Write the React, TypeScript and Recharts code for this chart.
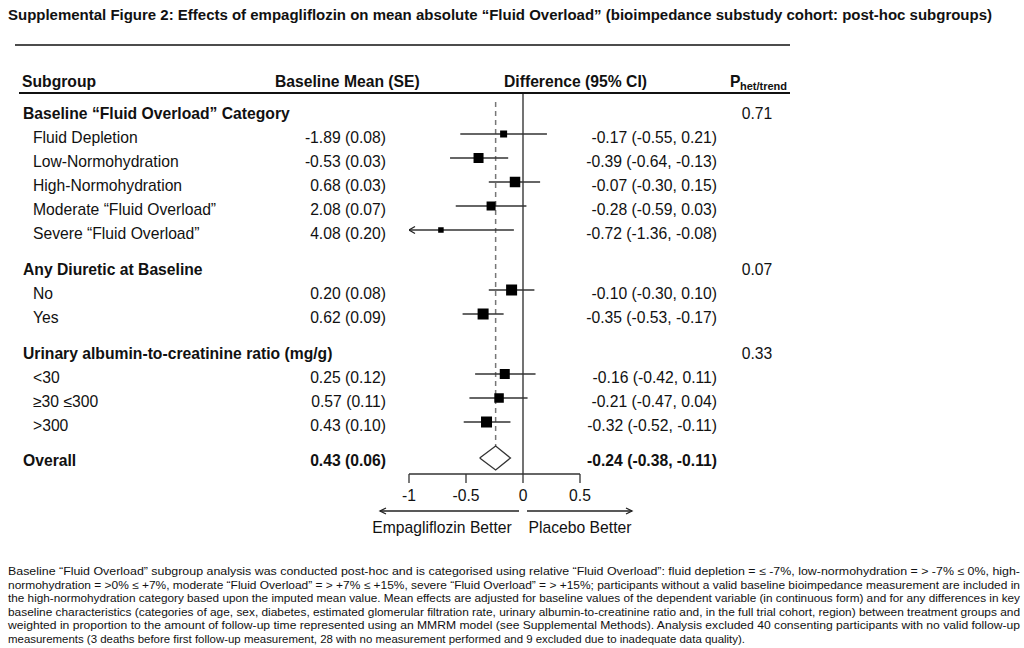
import React from "react";
import {
  ScatterChart,
  Scatter,
  XAxis,
  YAxis,
  ErrorBar,
  ReferenceLine,
} from "recharts";

// ---- data ----
const groupTitles = [
  "Baseline “Fluid Overload” Category",
  "Any Diuretic at Baseline",
  "Urinary albumin-to-creatinine ratio (mg/g)",
];
const groupP = ["0.71", "0.07", "0.33"];

const subgroupLabels = [
  "Fluid Depletion",
  "Low-Normohydration",
  "High-Normohydration",
  "Moderate “Fluid Overload”",
  "Severe “Fluid Overload”",
  "No",
  "Yes",
  "<30",
  "≥30 ≤300",
  ">300",
];
const subgroupGroup = [0, 0, 0, 0, 0, 1, 1, 2, 2, 2];
const baselineMean = [-1.89, -0.53, 0.68, 2.08, 4.08, 0.2, 0.62, 0.25, 0.57, 0.43];
const baselineSE = [0.08, 0.03, 0.03, 0.07, 0.2, 0.08, 0.09, 0.12, 0.11, 0.1];
const diffEst = [-0.17, -0.39, -0.07, -0.28, -0.72, -0.1, -0.35, -0.16, -0.21, -0.32];
const diffLow = [-0.55, -0.64, -0.3, -0.59, -1.36, -0.3, -0.53, -0.42, -0.47, -0.52];
const diffHigh = [0.21, -0.13, 0.15, 0.03, -0.08, 0.1, -0.17, 0.11, 0.04, -0.11];
// relative weight (box side) of each subgroup estimate
const boxWeight = [7, 10, 10.5, 9, 5.5, 11, 11, 10, 9.5, 11];

const overallMean = 0.43;
const overallSE = 0.06;
const overallEst = -0.24;
const overallLow = -0.38;
const overallHigh = -0.11;

const xTicks = [-1, -0.5, 0, 0.5];

const footnoteLines = [
  "Baseline “Fluid Overload” subgroup analysis was conducted post-hoc and is categorised using relative “Fluid Overload”: fluid depletion = ≤ -7%, low-normohydration = > -7% ≤ 0%, high-",
  "normohydration = >0% ≤ +7%, moderate “Fluid Overload” = > +7% ≤ +15%, severe “Fluid Overload” = > +15%; participants without a valid baseline bioimpedance measurement are included in",
  "the high-normohydration category based upon the imputed mean value. Mean effects are adjusted for baseline values of the dependent variable (in continuous form) and for any differences in key",
  "baseline characteristics (categories of age, sex, diabetes, estimated glomerular filtration rate, urinary albumin-to-creatinine ratio and, in the full trial cohort, region) between treatment groups and",
  "weighted in proportion to the amount of follow-up time represented using an MMRM model (see Supplemental Methods). Analysis excluded 40 consenting participants with no valid follow-up",
  "measurements (3 deaths before first follow-up measurement, 28 with no measurement performed and 9 excluded due to inadequate data quality).",
];

// ---- layout helpers ----
const FONT = '"Liberation Sans", Arial, sans-serif';
const NARROW = '"Liberation Sans Narrow", "Liberation Sans", Arial, sans-serif';
const FS = 15.7;
const X_MIN = -1;
const X_MAX = 0.5;

const fmt = (v: number) => v.toFixed(2);

type Row = {
  k: number;
  kind: "group" | "item" | "overall";
  label: string;
  base?: string;
  diff?: string;
  p?: string;
};

// rows: group headers get an extra half-row gap
const rows: Row[] = [];
const items: { i: number; k: number }[] = [];
let k = 0;
groupTitles.forEach((title, g) => {
  if (g > 0) k += 1.5;
  rows.push({ k, kind: "group", label: title, p: groupP[g] });
  subgroupLabels.forEach((lab, i) => {
    if (subgroupGroup[i] !== g) return;
    k += 1;
    items.push({ i, k });
    rows.push({
      k,
      kind: "item",
      label: lab,
      base: `${fmt(baselineMean[i])} (${fmt(baselineSE[i])})`,
      diff: `${fmt(diffEst[i])} (${fmt(diffLow[i])}, ${fmt(diffHigh[i])})`,
    });
  });
});
k += 1.5;
const overallK = k;
rows.push({
  k: overallK,
  kind: "overall",
  label: "Overall",
  base: `${fmt(overallMean)} (${fmt(overallSE)})`,
  diff: `${fmt(overallEst)} (${fmt(overallLow)}, ${fmt(overallHigh)})`,
});

const pointData = items.map(({ i, k }) => ({
  x: diffEst[i],
  y: k,
  err: [diffEst[i] - Math.max(diffLow[i], X_MIN), Math.min(diffHigh[i], X_MAX) - diffEst[i]],
  box: boxWeight[i],
  clipped: diffLow[i] < X_MIN,
}));
const clippedData = pointData.filter((d) => d.clipped).map((d) => ({ x: X_MIN, y: d.y }));

const diamondH = 0.5;
const diamondData = [
  { x: overallLow, y: overallK },
  { x: overallEst, y: overallK - diamondH },
  { x: overallHigh, y: overallK },
  { x: overallEst, y: overallK + diamondH },
  { x: overallLow, y: overallK },
];

const Square = (props: any) => {
  const { cx, cy, payload } = props;
  const s = payload.box;
  return <rect x={cx - s / 2} y={cy - s / 2} width={s} height={s} fill="#000" />;
};

const LeftArrow = (props: any) => {
  const { cx, cy } = props;
  return (
    <path
      d={`M${cx + 6},${cy - 3.5} L${cx},${cy} L${cx + 6},${cy + 3.5}`}
      fill="none"
      stroke="#222"
      strokeWidth={1.3}
    />
  );
};

const RowTick = (props: any) => {
  const { y, payload } = props;
  const row = rows.find((r) => Math.abs(r.k - payload.value) < 1e-6);
  if (!row) return null;
  const by = y + (row.kind === "overall" ? 7.5 : 9);
  const weight = row.kind === "item" ? "normal" : "bold";
  return (
    <g fontFamily={FONT} fontSize={FS} fill="#111">
      <text x={row.kind === "item" ? 33 : 23} y={by} fontWeight={weight}>
        {row.label}
      </text>
      {row.base && (
        <text x={386} y={by} textAnchor="end" fontWeight={weight}>
          {row.base}
        </text>
      )}
      {row.diff && (
        <text x={717} y={by} textAnchor="end" fontWeight={weight}>
          {row.diff}
        </text>
      )}
      {row.p && (
        <text x={757} y={by} textAnchor="middle">
          {row.p}
        </text>
      )}
    </g>
  );
};

const BetterLabel = (props: any) => {
  const vb = props.viewBox || { x: 409, y: 474, width: 171 };
  const zero = vb.x + (vb.width * (0 - X_MIN)) / (X_MAX - X_MIN);
  const ay = vb.y + 37;
  const ty = vb.y + 59;
  return (
    <g fontFamily={FONT} fontSize={FS} fill="#111">
      <line x1={zero - 143} y1={ay} x2={zero - 4} y2={ay} stroke="#222" strokeWidth={1.3} />
      <path d={`M${zero - 137},${ay - 3} L${zero - 143},${ay} L${zero - 137},${ay + 3}`} fill="none" stroke="#222" strokeWidth={1.3} />
      <line x1={zero + 4} y1={ay} x2={zero + 109} y2={ay} stroke="#222" strokeWidth={1.3} />
      <path d={`M${zero + 103},${ay - 3} L${zero + 109},${ay} L${zero + 103},${ay + 3}`} fill="none" stroke="#222" strokeWidth={1.3} />
      <text x={zero - 81} y={ty} textAnchor="middle">Empagliflozin Better</text>
      <text x={zero + 57} y={ty} textAnchor="middle">Placebo Better</text>
    </g>
  );
};

export default function App() {
  return (
    <div style={{ position: "absolute", left: 0, top: 0, width: 1024, height: 648, background: "#fff" }}>
      <div style={{ position: "absolute", left: 0, top: 0 }}>
        <ScatterChart width={1024} height={648} margin={{ top: 93, right: 444, bottom: 114, left: 0 }}>
          <XAxis
            type="number"
            dataKey="x"
            domain={[X_MIN, X_MAX]}
            ticks={xTicks}
            allowDataOverflow
            height={60}
            tickSize={9}
            tickMargin={7}
            axisLine={{ stroke: "#333", strokeWidth: 1.3 }}
            tickLine={{ stroke: "#333", strokeWidth: 1.3 }}
            tick={{ fill: "#111", fontSize: FS, fontFamily: FONT }}
            label={<BetterLabel />}
          />
          <YAxis
            type="number"
            dataKey="y"
            domain={[-17 / 24, 15 + 1 / 6]}
            reversed
            allowDataOverflow
            ticks={rows.map((r) => r.k)}
            interval={0}
            width={409}
            axisLine={false}
            tickLine={false}
            tick={<RowTick />}
          />
          <ReferenceLine x={0} stroke="#444" strokeWidth={1.5} />
          <ReferenceLine
            segment={[
              { x: overallEst, y: -0.33 },
              { x: overallEst, y: overallK },
            ]}
            stroke="#777"
            strokeWidth={1.5}
            strokeDasharray="5 4"
          />
          <Scatter data={pointData} shape={<Square />} isAnimationActive={false}>
            <ErrorBar dataKey="err" direction="x" width={0} stroke="#333" strokeWidth={1.4} isAnimationActive={false} />
          </Scatter>
          <Scatter data={clippedData} shape={<LeftArrow />} isAnimationActive={false} />
          <Scatter
            data={diamondData}
            line={{ stroke: "#333", strokeWidth: 1.3, fill: "#fff" }}
            shape={() => <g />}
            isAnimationActive={false}
          />
        </ScatterChart>
      </div>
      <svg
        width={1024}
        height={648}
        style={{ position: "absolute", left: 0, top: 0, pointerEvents: "none" }}
      >
        <text x={8} y={20} fontFamily={NARROW} fontWeight="bold" fontSize={14} fill="#111" textLength={984} lengthAdjust="spacingAndGlyphs">
          Supplemental Figure 2: Effects of empagliflozin on mean absolute “Fluid Overload” (bioimpedance substudy cohort: post-hoc subgroups)
        </text>
        <line x1={15} y1={45} x2={790} y2={45} stroke="#111" strokeWidth={1.5} />
        <g fontFamily={FONT} fontSize={FS} fontWeight="bold" fill="#111">
          <text x={22} y={87}>Subgroup</text>
          <text x={275} y={87}>Baseline Mean (SE)</text>
          <text x={504} y={87}>Difference (95% CI)</text>
          <text x={730} y={87}>P</text>
          <text x={740} y={90} fontSize={11}>het/trend</text>
        </g>
        <line x1={19} y1={93} x2={790} y2={93} stroke="#111" strokeWidth={2} />
        <g fontFamily={NARROW} fontSize={11} fill="#111">
          {footnoteLines.map((t, i) => (
            <text
              key={i}
              x={8}
              y={575 + i * 13.6}
              textLength={i < footnoteLines.length - 1 ? 1012 : 737}
              lengthAdjust="spacingAndGlyphs"
            >
              {t}
            </text>
          ))}
        </g>
      </svg>
    </div>
  );
}
